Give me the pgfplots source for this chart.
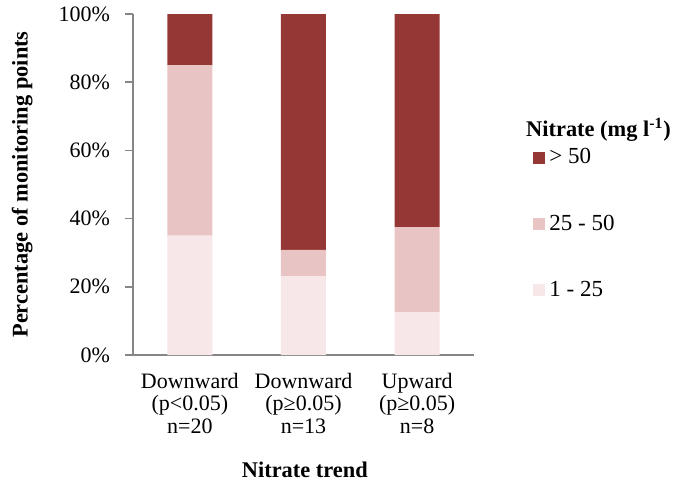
\documentclass[border=0pt]{standalone}
\usepackage{pgfplots}
\pgfplotsset{compat=1.18}
\usepackage{fontspec}
\setmainfont{Liberation Serif}
\definecolor{cdark}{RGB}{149,55,53}
\definecolor{cmid}{RGB}{233,196,197}
\definecolor{clight}{RGB}{248,231,232}
\definecolor{caxis}{RGB}{134,134,134}
\begin{document}
\begin{tikzpicture}
\path[use as bounding box] (-66.5pt,-69.5pt) rectangle (271pt,177.5pt);
\begin{axis}[
  width=170.5pt, height=170.5pt, scale only axis,
  ybar stacked, bar width=22.5pt,
  xmin=-0.5, xmax=2.5, ymin=0, ymax=100,
  axis lines=left, axis line style={-, caxis, line width=0.8pt},
  xtick={0,1,2},
  xticklabels={{Downward\\(p<0.05)\\n=20},{Downward\\(p≥0.05)\\n=13},{Upward\\(p≥0.05)\\n=8}},
  major x tick style={draw=none},
  extra x ticks={-0.5,0.5,1.5,2.5}, extra x tick labels={},
  extra x tick style={tick style={draw=caxis, line width=0.8pt}, major tick length=4pt},
  xtick align=outside, ytick align=outside,
  ytick={0,20,40,60,80,100},
  yticklabel={\pgfmathprintnumber{\tick}\%},
  ytick style={draw=caxis, line width=0.8pt}, major tick length=4pt,
  tick label style={font=\fontsize{11}{11.3}\selectfont},
  /pgf/number format/assume math mode=true,
  xticklabel style={align=center, yshift=-1.5pt, inner xsep=1pt},
  yticklabel style={xshift=-4pt},
  ylabel={\bfseries Percentage of monitoring points},
  ylabel style={at={(axis description cs:-0.325,0.5)}, anchor=center, font=\fontsize{11.2}{12}\selectfont},
  xlabel={\bfseries Nitrate trend},
  xlabel style={at={(axis description cs:0.504,-0.337)}, anchor=center, font=\fontsize{11.2}{12}\selectfont},
  legend style={at={(axis description cs:1.167,0.63)}, anchor=north west, draw=none, fill=none,
    font=\fontsize{11.5}{12}\selectfont, row sep=20pt, cells={anchor=west}, inner xsep=1pt},
  reverse legend,
  legend image code/.code={\fill[#1] (0pt,-3pt) rectangle (6pt,3pt);},
  clip=false,
]
\addplot[fill=clight, draw=none] coordinates {(0,35) (1,23.1) (2,12.5)};
\addlegendentry{1 - 25}
\addplot[fill=cmid, draw=none] coordinates {(0,50) (1,7.7) (2,25)};
\addlegendentry{25 - 50}
\addplot[fill=cdark, draw=none] coordinates {(0,15) (1,69.2) (2,62.5)};
\addlegendentry{> 50}
\node[anchor=west, font=\fontsize{11.2}{12}\selectfont\bfseries, inner xsep=0pt] at (axis description cs:1.152,0.66) {Nitrate (mg l\textsuperscript{-1})};
\end{axis}
\end{tikzpicture}
\end{document}
